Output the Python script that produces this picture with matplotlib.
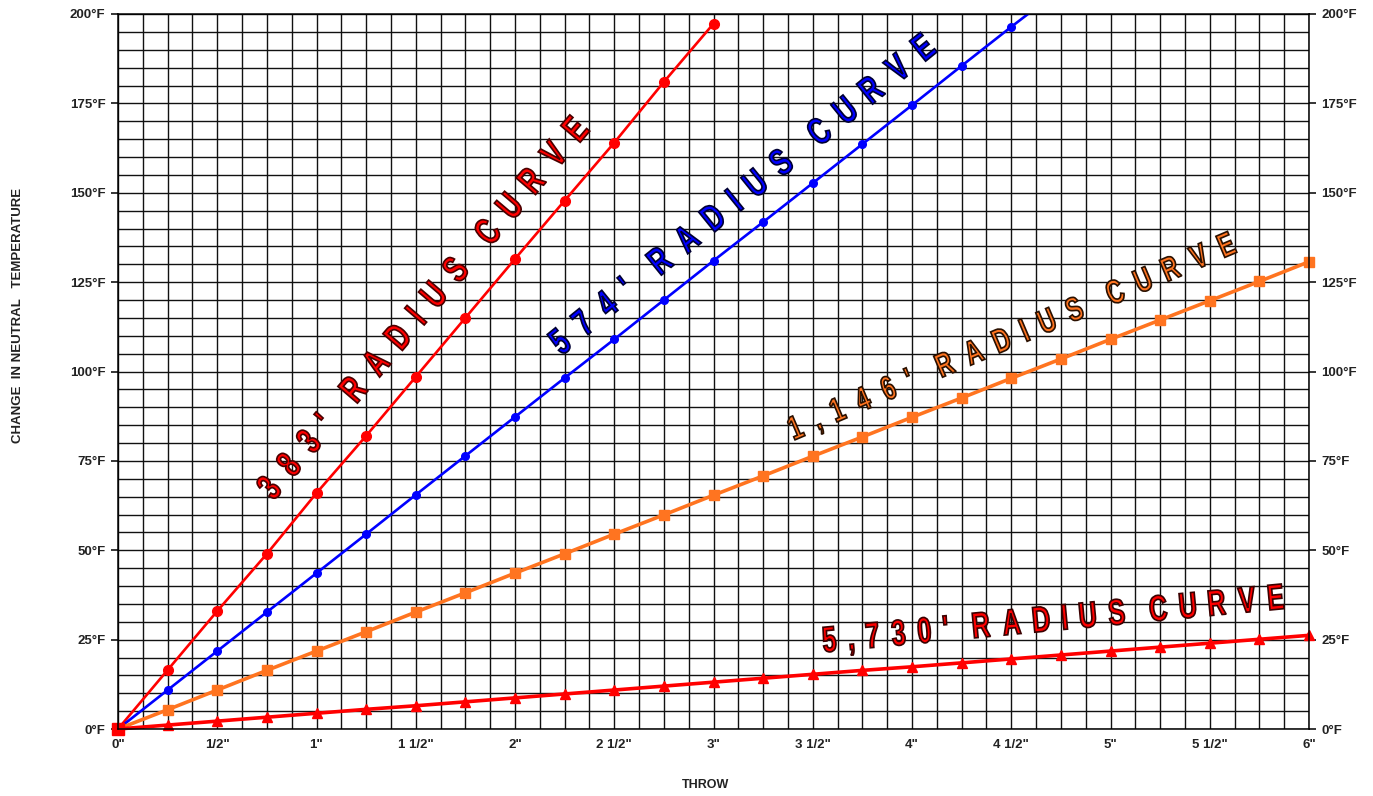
import numpy as np
import matplotlib.pyplot as plt
from matplotlib.ticker import MultipleLocator
from matplotlib.textpath import TextPath
from matplotlib.font_manager import FontProperties
from matplotlib.patches import PathPatch
from matplotlib.transforms import Affine2D
from matplotlib.path import Path

plt.rcParams['font.family'] = ['Liberation Sans', 'DejaVu Sans']

# Throw in inches, marker every 1/4"
throw_383 = [0, 0.25, 0.5, 0.75, 1, 1.25, 1.5, 1.75, 2, 2.25, 2.5, 2.75, 3]
temp_383 = [0, 16.5, 33, 49, 66, 82, 98.5, 115, 131.5, 147.8, 164, 181, 197.3]

throw_574 = [0, 0.25, 0.5, 0.75, 1, 1.25, 1.5, 1.75, 2, 2.25, 2.5, 2.75, 3,
             3.25, 3.5, 3.75, 4, 4.25, 4.5, 4.65]
temp_574 = [0, 10.9, 21.8, 32.7, 43.6, 54.5, 65.5, 76.4, 87.3, 98.2, 109, 120,
            131, 141.8, 152.7, 163.6, 174.5, 185.5, 196.4, 202.8]
mark_574 = list(range(19))

throw_1146 = [0, 0.25, 0.5, 0.75, 1, 1.25, 1.5, 1.75, 2, 2.25, 2.5, 2.75, 3,
              3.25, 3.5, 3.75, 4, 4.25, 4.5, 4.75, 5, 5.25, 5.5, 5.75, 6]
temp_1146 = [0, 5.4, 10.9, 16.4, 21.8, 27.2, 32.7, 38.1, 43.6, 49, 54.5, 59.9,
             65.4, 70.8, 76.3, 81.7, 87.2, 92.6, 98.1, 103.5, 109, 114.4, 119.8,
             125.2, 130.7]

throw_5730 = [0, 0.25, 0.5, 0.75, 1, 1.25, 1.5, 1.75, 2, 2.25, 2.5, 2.75, 3,
              3.25, 3.5, 3.75, 4, 4.25, 4.5, 4.75, 5, 5.25, 5.5, 5.75, 6]
temp_5730 = [0, 1.1, 2.2, 3.3, 4.4, 5.5, 6.5, 7.6, 8.7, 9.8, 10.9, 12.0, 13.1,
             14.2, 15.3, 16.4, 17.4, 18.5, 19.6, 20.7, 21.8, 22.9, 24.0, 25.1, 26.2]

x_ticks = [0, 0.5, 1, 1.5, 2, 2.5, 3, 3.5, 4, 4.5, 5, 5.5, 6]
x_labels = ['0"', '1/2"', '1"', '1 1/2"', '2"', '2 1/2"', '3"', '3 1/2"',
            '4"', '4 1/2"', '5"', '5 1/2"', '6"']
y_ticks = [0, 25, 50, 75, 100, 125, 150, 175, 200]
y_labels = ['%d°F' % v for v in y_ticks]

# curve labels: words, centre (data), angle, length (px), cap height (px)
curve_labels = [
    (["383'", "RADIUS", "CURVE"], (1.53, 118.0), 49.5, 486, 27, '#ff0000', '#4a0000'),
    (["574'", "RADIUS", "CURVE"], (3.14, 149.9), 39.0, 482, 27, '#0000ff', '#000033'),
    (["1,146'", "RADIUS", "CURVE"], (4.50, 110.2), 23.0, 480, 24, '#ff7420', '#2a1000'),
    (["5,730'", "RADIUS", "CURVE"], (4.71, 31.2), 5.4, 462, 26, '#ff0000', '#3a0000'),
]

RED = '#ff0000'
BLUE = '#0000ff'
ORANGE = '#ff7420'


def spaced_path(words, cap, length, squeeze=0.7, word_ratio=1.9):
    fp = FontProperties(family='Liberation Sans', weight='bold')
    size = cap / 0.72
    glyphs = []
    for word in words:
        glyphs.append([TextPath((0, 0), ch, size=size, prop=fp) for ch in word])
    widths = sum(g.get_extents().width * squeeze for w in glyphs for g in w)
    n_gaps = sum(len(w) - 1 for w in glyphs)
    gap = (length - widths) / (n_gaps + word_ratio * (len(glyphs) - 1))
    parts = []
    x = 0
    for wi, word in enumerate(glyphs):
        if wi:
            x += gap * word_ratio
        for ci, g in enumerate(word):
            if ci:
                x += gap
            ext = g.get_extents()
            t = Affine2D().translate(-ext.x0, 0).scale(squeeze, 1).translate(x, 0)
            parts.append(g.transformed(t))
            x += ext.width * squeeze
    return Path.make_compound_path(*parts), x


fig = plt.figure(figsize=(13.73, 7.96), dpi=100)
ax = fig.add_axes([118 / 1373, 1 - 729 / 796, (1309 - 118) / 1373, (729 - 14) / 796])

ax.set_xlim(0, 6)
ax.set_ylim(0, 200)
ax.xaxis.set_minor_locator(MultipleLocator(0.125))
ax.yaxis.set_minor_locator(MultipleLocator(5))
ax.grid(which='both', color='#111111', linewidth=1.0)
ax.set_axisbelow(True)
for s in ax.spines.values():
    s.set_linewidth(1.1)

ax.set_xticks(x_ticks)
ax.set_xticklabels(x_labels, fontsize=9.5, fontweight='bold', color='#222222')
ax.set_yticks(y_ticks)
ax.set_yticklabels(y_labels, fontsize=9.5, fontweight='bold', color='#222222')
ax.tick_params(axis='x', which='both', length=0, pad=7)
ax.tick_params(axis='y', which='major', length=5, width=1.1, pad=4,
               left=True, right=True, labelleft=True, labelright=True)
ax.tick_params(axis='y', which='minor', length=0)

ax.plot(throw_383, temp_383, color=RED, lw=1.9, marker='o', ms=7)
ax.plot(throw_574, temp_574, color=BLUE, lw=1.9, marker='o', ms=5.5,
        markevery=mark_574)
ax.plot(throw_1146, temp_1146, color=ORANGE, lw=2.6, marker='s', ms=6.5,
        clip_on=False)
ax.plot(throw_5730, temp_5730, color=RED, lw=2.6, marker='^', ms=7,
        clip_on=False)
ax.plot([0], [0], color=RED, marker='s', ms=8, clip_on=False)

for words, (cx, cy), rot, length, cap, fc, ec in curve_labels:
    path, total = spaced_path(words, cap, length)
    px, py = ax.transData.transform((cx, cy))
    trans = Affine2D().translate(-total / 2, -cap / 2).rotate_deg(rot).translate(px, py)
    patch = PathPatch(path, facecolor=fc, edgecolor=ec, lw=1.2, transform=trans)
    fig.add_artist(patch)

fig.text(18 / 1373, 1 - 315 / 796, 'CHANGE  IN NEUTRAL   TEMPERATURE',
         rotation=90, ha='center', va='center', fontsize=9.5, fontweight='bold',
         color='#222222')
fig.text(706 / 1373, 1 - 785 / 796, 'THROW', ha='center', va='center',
         fontsize=9, fontweight='bold', color='#222222')

fig.savefig('out.png', dpi=100)
